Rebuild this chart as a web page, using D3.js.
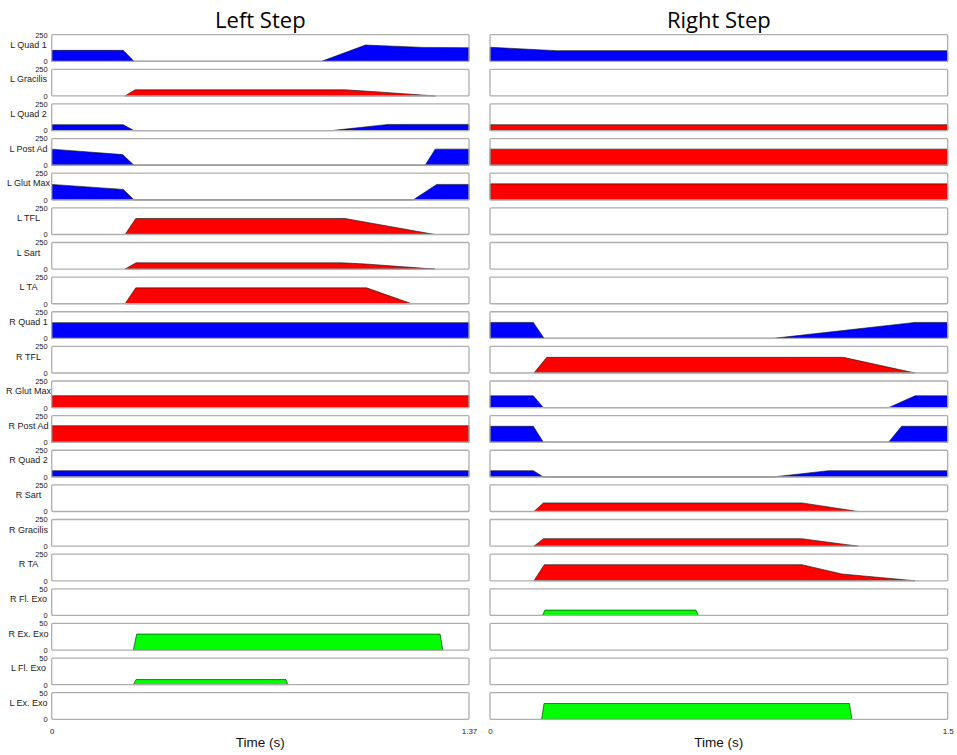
<!DOCTYPE html>
<html>
<head>
<meta charset="utf-8">
<script src="https://cdn.jsdelivr.net/npm/d3@7"></script>
<style>
  body { margin: 0; background: #fff; }
  svg { display: block; }
</style>
</head>
<body>
<div id="container"></div>
<script>
// row labels, top to bottom
const muscles = [
  "L Quad 1", "L Gracilis", "L Quad 2", "L Post Ad", "L Glut Max", "L TFL", "L Sart", "L TA",
  "R Quad 1", "R TFL", "R Glut Max", "R Post Ad", "R Quad 2", "R Sart", "R Gracilis", "R TA",
  "R Fl. Exo", "R Ex. Exo", "L Fl. Exo", "L Ex. Exo"
];
const yMaxes = [250, 250, 250, 250, 250, 250, 250, 250,
  250, 250, 250, 250, 250, 250, 250, 250, 50, 50, 50, 50];

const stepTitles = ["Left Step", "Right Step"];
const stepDurations = [1.37, 1.5];
const timeTicks = [["0", "1.37"], ["0", "1.5"]];

// [time (s), value] per muscle
const leftProfiles = [
  [[0, 103], [0.235, 103], [0.27, 0], [0.886, 0], [1.03, 153], [1.22, 131], [1.37, 128]],
  [[0.24, 0], [0.274, 58], [0.963, 58], [1.05, 42], [1.26, 0]],
  [[0, 55], [0.235, 55], [0.27, 0], [0.919, 0], [1.105, 58], [1.37, 58]],
  [[0, 151], [0.233, 100], [0.27, 0], [1.226, 0], [1.259, 151], [1.37, 151]],
  [[0, 145], [0.235, 98], [0.27, 0], [1.187, 0], [1.264, 145], [1.37, 145]],
  [[0.241, 0], [0.276, 150], [0.963, 150], [1.258, 0]],
  [[0.241, 0], [0.277, 59], [0.952, 59], [1.03, 48], [1.258, 0]],
  [[0.241, 0], [0.276, 149], [1.034, 149], [1.182, 0]],
  [[0, 147], [1.37, 147]],
  [],
  [[0, 112], [1.37, 112]],
  [[0, 155], [1.37, 155]],
  [[0, 58], [1.37, 58]],
  [],
  [],
  [],
  [],
  [[0.268, 0], [0.279, 30], [1.275, 30], [1.284, 0]],
  [[0.268, 0], [0.277, 9.6], [0.769, 9.6], [0.775, 0]],
  []
];
const leftColors = ["blue", "red", "blue", "blue", "blue", "red", "red", "red",
  "blue", null, "red", "red", "blue", null, null, null, null, "green", "green", null];

const rightProfiles = [
  [[0, 132], [0.219, 100], [1.5, 100]],
  [],
  [[0, 55], [1.5, 55]],
  [[0, 151], [1.5, 151]],
  [[0, 150], [1.5, 150]],
  [],
  [],
  [],
  [[0, 150], [0.142, 150], [0.177, 0], [0.929, 0], [1.393, 150], [1.5, 150]],
  [[0.144, 0], [0.186, 147], [1.158, 147], [1.393, 0]],
  [[0, 111], [0.142, 111], [0.175, 0], [1.306, 0], [1.393, 111], [1.5, 111]],
  [[0, 150], [0.142, 150], [0.175, 0], [1.306, 0], [1.349, 150], [1.5, 150]],
  [[0, 58], [0.142, 58], [0.175, 0], [0.929, 0], [1.109, 58], [1.5, 58]],
  [[0.144, 0], [0.175, 81], [1.022, 81], [1.207, 0]],
  [[0.144, 0], [0.175, 70], [1.022, 70], [1.207, 0]],
  [[0.144, 0], [0.178, 151], [1.022, 151], [1.153, 64], [1.393, 0]],
  [[0.172, 0], [0.18, 10], [0.675, 10], [0.683, 0]],
  [],
  [],
  [[0.169, 0], [0.177, 29.6], [1.178, 29.6], [1.186, 0]]
];
const rightColors = ["blue", null, "red", "red", "red", null, null, null,
  "blue", "red", "blue", "blue", "blue", "red", "red", "red", "green", null, null, "green"];

const fills = { blue: "#0000ff", red: "#ff0000", green: "#00ff00" };

const width = 957, height = 755;
const svg = d3.select('#container')
  .append('svg')
  .attr('width', width)
  .attr('height', height)
  .style('font-family', '"Liberation Sans", Arial, sans-serif');

const rowScale = d3.scaleBand()
  .domain(muscles)
  .range([34.7, 719.3])
  .paddingInner(0.231);

const columns = [
  { profiles: leftProfiles, colors: leftColors, xRange: [51.7, 469] },
  { profiles: rightProfiles, colors: rightColors, xRange: [490, 947.7] }
];

columns.forEach((col, c) => {
  const x = d3.scaleLinear().domain([0, stepDurations[c]]).range(col.xRange);
  const g = svg.append('g');

  g.append('text')
    .attr('x', (col.xRange[0] + col.xRange[1]) / 2)
    .attr('y', 28)
    .attr('text-anchor', 'middle')
    .style('font-family', '"Open Sans", sans-serif')
    .style('font-size', '22px')
    .attr('fill', '#000')
    .text(stepTitles[c]);

  muscles.forEach((m, i) => {
    const top = rowScale(m);
    const bottom = top + rowScale.bandwidth();
    const y = d3.scaleLinear().domain([0, yMaxes[i]]).range([bottom, top]);
    const panel = g.append('g').attr('class', 'panel');

    panel.append('rect')
      .attr('x', col.xRange[0]).attr('y', top)
      .attr('width', col.xRange[1] - col.xRange[0])
      .attr('height', bottom - top)
      .attr('fill', '#fff');

    const pts = col.profiles[i];
    if (pts.length) {
      const area = d3.area()
        .x(d => x(d[0]))
        .y0(y(0))
        .y1(d => y(d[1]));
      panel.append('path')
        .datum(pts)
        .attr('fill', fills[col.colors[i]])
        .attr('stroke', '#111')
        .attr('stroke-width', 0.6)
        .attr('stroke-linejoin', 'round')
        .attr('d', area);
    }

    panel.append('rect')
      .attr('x', col.xRange[0]).attr('y', top)
      .attr('width', col.xRange[1] - col.xRange[0])
      .attr('height', bottom - top)
      .attr('rx', 1)
      .attr('fill', 'none')
      .attr('stroke', '#aeaeae')
      .attr('stroke-width', 1.3);

    if (c === 0) {
      const yAxis = panel.append('g')
        .attr('transform', `translate(${col.xRange[0] - 3},0)`)
        .call(d3.axisLeft(y).tickValues([0, yMaxes[i]]).tickSize(0).tickPadding(1));
      yAxis.select('.domain').remove();
      yAxis.selectAll('text')
        .style('font-size', '7.5px')
        .style('font-family', '"Liberation Sans Narrow", "Liberation Sans", Arial, sans-serif')
        .attr('fill', '#222');

      panel.append('text')
        .attr('x', 28.5)
        .attr('y', top + 10)
        .attr('dy', '0.35em')
        .attr('text-anchor', 'middle')
        .style('font-size', '9px')
        .attr('fill', '#222')
        .text(m);
    }
  });

  const xAxis = g.append('g')
    .attr('transform', 'translate(0,725)')
    .call(d3.axisBottom(x)
      .tickValues([0, stepDurations[c]])
      .tickSize(0)
      .tickFormat((d, k) => timeTicks[c][k]));
  xAxis.select('.domain').remove();
  xAxis.selectAll('text')
    .style('font-size', '8px')
    .style('font-family', '"Liberation Sans Narrow", "Liberation Sans", Arial, sans-serif')
    .attr('fill', '#222');

  g.append('text')
    .attr('x', (col.xRange[0] + col.xRange[1]) / 2)
    .attr('y', 747)
    .attr('text-anchor', 'middle')
    .style('font-size', '13.5px')
    .attr('fill', '#111')
    .text('Time (s)');
});
</script>
</body>
</html>
